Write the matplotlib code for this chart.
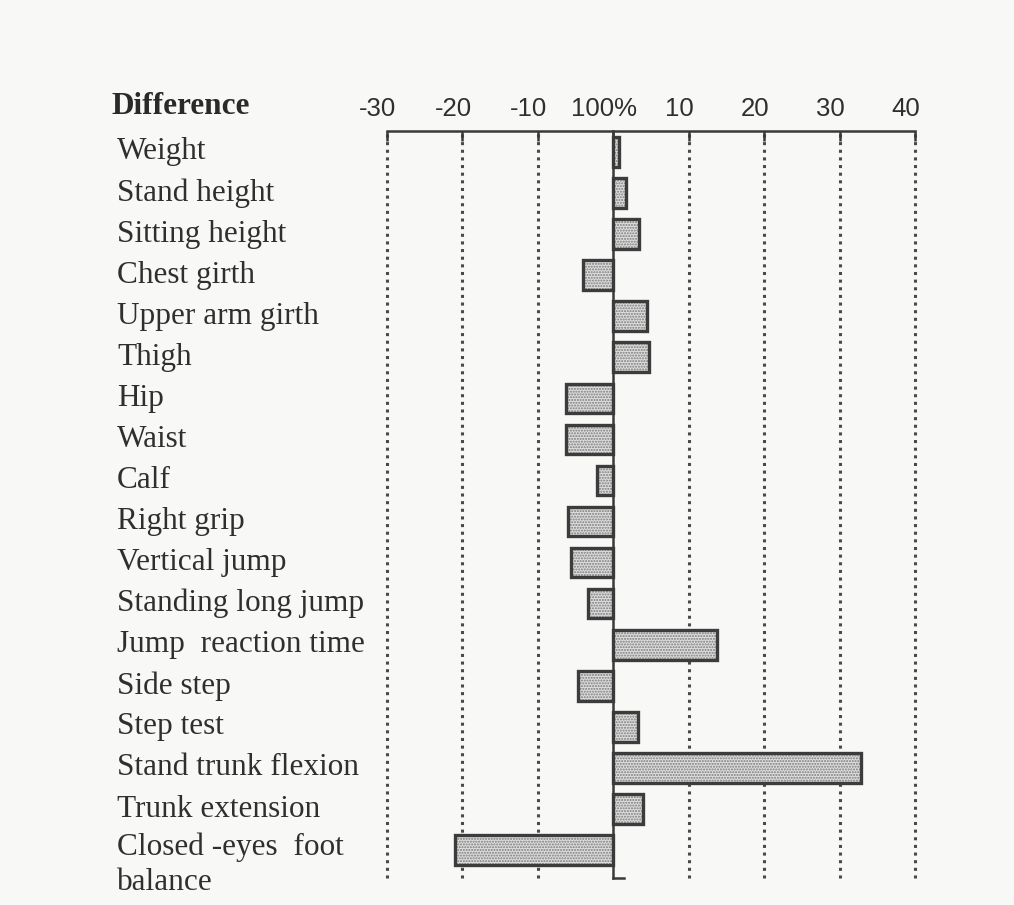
import matplotlib
matplotlib.use("Agg")
import matplotlib.pyplot as plt
import matplotlib.transforms as mtransforms

categories = ["Weight", "Stand height", "Sitting height", "Chest girth",
              "Upper arm girth", "Thigh", "Hip", "Waist", "Calf", "Right grip",
              "Vertical jump", "Standing long jump", "Jump  reaction time",
              "Side step", "Step test", "Stand trunk flexion", "Trunk extension",
              "Closed -eyes  foot\nbalance"]
differences = [0.7, 1.7, 3.4, -4.0, 4.5, 4.8, -6.3, -6.3, -2.1, -6.0,
               -5.6, -3.3, 13.8, -4.7, 3.3, 32.9, 4.0, -21.0]
tick_values = [-30, -20, -10, 0, 10, 20, 30, 40]
tick_labels = ["-30", "-20", "-10", "100%", "10", "20", "30", "40"]
header = "Difference"

W, H = 1014, 905
fig = plt.figure(figsize=(W / 100, H / 100), dpi=100)
fig.patch.set_facecolor("#f8f8f6")

ax = fig.add_axes([387 / W, 1 - 878 / H, (915 - 387) / W, (878 - 131) / H])
ax.set_facecolor("none")
ax.set_xlim(-30, 40)
n = len(categories)
ax.set_ylim(n - 1 + 0.68, -0.51)

ink = "#3a3a3a"
for s in ["left", "right", "bottom"]:
    ax.spines[s].set_visible(False)
ax.spines["top"].set_color(ink)
ax.spines["top"].set_linewidth(1.8)

# gridlines
for v in tick_values:
    if v == 0:
        ax.axvline(v, color=ink, lw=1.8, zorder=4, clip_on=False)
    else:
        ax.axvline(v, color="#4a4a4a", lw=2.2, ls=(0, (1.0, 1.5)), zorder=1,
                   clip_on=False)

# bars
plt.rcParams["hatch.linewidth"] = 1.0
ys = list(range(n))
ax.barh(ys, differences, height=0.72, color="#dedede", edgecolor="#7a7a7a",
        hatch="......", linewidth=0, zorder=2)
ax.barh(ys, differences, height=0.72, color="none", edgecolor="#3c3c3c",
        linewidth=2.4, zorder=3)

# foot of zero line
ax.plot([0, 1.4], [n - 1 + 0.68, n - 1 + 0.68], color=ink, lw=1.8, clip_on=False)

ax.xaxis.tick_top()
ax.set_xticks(tick_values)
ax.set_xticklabels(tick_labels, fontsize=18.5, color="#2f2f2f",
                   family="Liberation Sans")
ax.tick_params(axis="x", direction="in", length=7, width=1.8, color=ink, pad=7)
for lbl in ax.get_xticklabels():
    lbl.set_transform(lbl.get_transform() +
                      mtransforms.ScaledTranslation(-9 / 100, 0, fig.dpi_scale_trans))
ax.set_yticks([])

trans = mtransforms.blended_transform_factory(fig.transFigure, ax.transData)
for y, c in zip(ys, categories):
    if "\n" in c:
        ax.text(117 / W, y - 0.42, c, transform=trans, ha="left", va="top",
                fontsize=22.5, family="Liberation Serif", color="#2f2f2f",
                linespacing=1.25)
    else:
        ax.text(117 / W, y, c, transform=trans, ha="left", va="center",
                fontsize=22.5, family="Liberation Serif", color="#2f2f2f")

fig.text(112 / W, 1 - 107 / H, header, ha="left", va="center", fontsize=22.5,
         family="Liberation Serif", fontweight="bold", color="#2a2a2a")

fig.savefig("out.png", dpi=100, facecolor=fig.get_facecolor())
